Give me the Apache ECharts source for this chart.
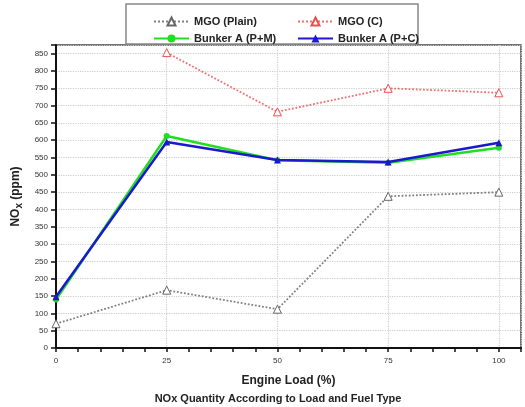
<!DOCTYPE html>
<html>
<head>
<meta charset="utf-8">
<script src="https://cdn.jsdelivr.net/npm/echarts@6/dist/echarts.min.js"></script>
<style>
  html, body { margin: 0; padding: 0; background: #fff; }
  #chart { width: 525px; height: 407px; }
</style>
</head>
<body>
<div id="chart"></div>
<script>
// Engine load (%) at which NOx was measured
const loads = [0, 25, 50, 75, 100];

// NOx (ppm) per fuel / configuration
const mgoPlain = [70, 167, 112, 438, 450];
const mgoC = [null, 853, 682, 750, 737];
const bunkerPM = [140, 612, 542, 535, 578];
const bunkerPC = [148, 595, 543, 537, 593];

const seriesNames = ['MGO (Plain)', 'MGO (C)', 'Bunker A (P+M)', 'Bunker A (P+C)'];

const pairs = vals => loads.map((x, i) => [x, vals[i]]);

const FONT = 'Liberation Sans, Arial, sans-serif';
const chart = echarts.init(document.getElementById('chart'));

chart.setOption({
  animation: false,
  backgroundColor: '#fff',
  textStyle: { fontFamily: FONT },
  title: {
    text: 'NOx Quantity According to Load and Fuel Type',
    left: 273, textAlign: 'center', top: 388,
    textStyle: { fontSize: 11, fontWeight: 'bold', color: '#222', fontFamily: FONT }
  },
  graphic: [{
    type: 'rect', shape: { x: 126, y: 4, width: 292, height: 40 },
    style: { fill: '#fff', stroke: '#888', lineWidth: 1.5 }, z: 0
  }],
  legend: [
    {
      data: [seriesNames[0], seriesNames[2]], orient: 'vertical',
      left: 148, top: 11, itemWidth: 35, itemHeight: 10, itemGap: 6,
      textStyle: { fontSize: 11, fontWeight: 'bold', color: '#222', fontFamily: FONT }
    },
    {
      data: [seriesNames[1], seriesNames[3]], orient: 'vertical',
      left: 292, top: 11, itemWidth: 35, itemHeight: 10, itemGap: 6,
      textStyle: { fontSize: 11, fontWeight: 'bold', color: '#222', fontFamily: FONT }
    }
  ],
  grid: {
    left: 56, right: 4, top: 45, bottom: 59,
    show: true, borderColor: '#444', borderWidth: 1.5, backgroundColor: '#fff'
  },
  xAxis: [
    {
      type: 'value', min: 0, max: 105, interval: 25,
      name: 'Engine Load (%)', nameLocation: 'middle', nameGap: 27,
      nameTextStyle: { fontSize: 12, fontWeight: 'bold', color: '#222' },
      axisLine: { lineStyle: { color: '#111', width: 2 } },
      axisTick: { show: false },
      axisLabel: {
        fontSize: 8, color: '#333', margin: 9,
        formatter: v => (v % 25 === 0 && v <= 100 ? String(v) : '')
      },
      splitLine: { show: true, lineStyle: { color: '#ccc', type: 'dotted', width: 1.2 } }
    },
    {
      // minor ticks every 5 %
      type: 'value', min: 0, max: 105, interval: 5, position: 'bottom',
      axisLine: { show: false },
      axisTick: { show: true, inside: false, length: 4, lineStyle: { color: '#111', width: 1.5 } },
      axisLabel: { show: false },
      splitLine: { show: false }
    }
  ],
  yAxis: {
    type: 'value', min: 0, max: 875, interval: 50,
    name: '{a|NO}{b|x}{a| (ppm)}', nameLocation: 'middle', nameGap: 30,
    nameTextStyle: {
      rich: {
        a: { fontSize: 12, fontWeight: 'bold', color: '#222', fontFamily: FONT },
        b: { fontSize: 10, fontWeight: 'bold', color: '#222', fontFamily: FONT, padding: [6, 0, 0, 0] }
      }
    },
    axisLine: { show: true, lineStyle: { color: '#111', width: 2 } },
    axisTick: { show: true, length: 5, lineStyle: { color: '#111', width: 1.5 } },
    axisLabel: {
      fontSize: 8, color: '#333', margin: 8,
      formatter: v => (v <= 850 ? String(v) : '')
    },
    splitLine: { show: true, lineStyle: { color: '#ccc', type: 'dotted', width: 1.2 } }
  },
  series: [
    {
      name: seriesNames[0], type: 'line', data: pairs(mgoPlain),
      symbol: 'triangle', symbolSize: 8,
      lineStyle: { color: '#808080', type: 'dotted', width: 1.8 },
      itemStyle: { color: '#fff', borderColor: '#666', borderWidth: 1 }, z: 3
    },
    {
      name: seriesNames[1], type: 'line', data: pairs(mgoC),
      symbol: 'triangle', symbolSize: 8,
      lineStyle: { color: '#f07070', type: 'dotted', width: 1.8 },
      itemStyle: { color: '#fff', borderColor: '#e85050', borderWidth: 1 }, z: 3
    },
    {
      name: seriesNames[2], type: 'line', data: pairs(bunkerPM),
      symbol: 'circle', symbolSize: 6,
      lineStyle: { color: '#22dd22', width: 2.5 },
      itemStyle: { color: '#22dd22' }, z: 4
    },
    {
      name: seriesNames[3], type: 'line', data: pairs(bunkerPC),
      symbol: 'triangle', symbolSize: 7,
      lineStyle: { color: '#1a1acc', width: 2.5 },
      itemStyle: { color: '#1a1acc' }, z: 5
    }
  ]
});
</script>
</body>
</html>
